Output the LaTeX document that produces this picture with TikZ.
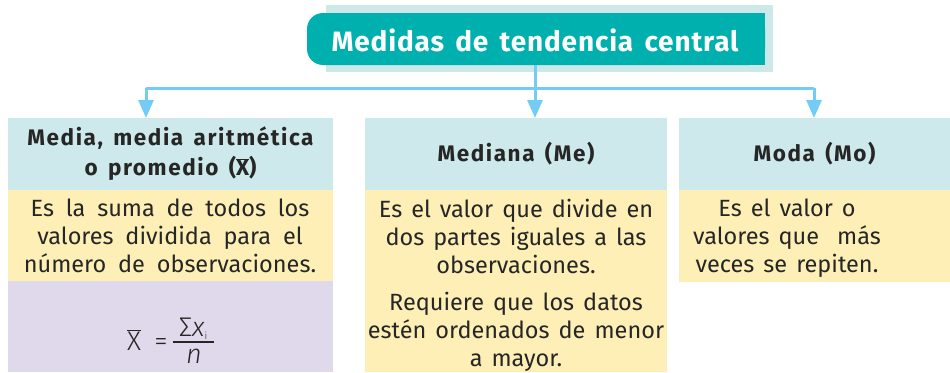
\documentclass[tikz,border=0pt]{standalone}
\usepackage{fontspec}
\setmainfont{Fira Sans}[WordSpace=1.45]
\newfontfamily\widefont{Fira Sans}[WordSpace=1.9]
\newfontfamily\titlefont{Fira Sans}[WordSpace=1.5,LetterSpace=3]
\newfontfamily\hdrfont{Fira Sans}[WordSpace=1.5,LetterSpace=7]
\newfontfamily\formfont{Fira Sans Light}
\usetikzlibrary{arrows.meta}
\definecolor{tealmain}{HTML}{00B0AE}
\definecolor{tealshadow}{HTML}{CDE8E8}
\definecolor{hdrblue}{HTML}{CEE9EB}
\definecolor{yelbox}{HTML}{FDEFB5}
\definecolor{lilbox}{HTML}{E0D9EB}
\definecolor{arrowblue}{HTML}{72CCF3}
\definecolor{txtcol}{HTML}{262626}
\begin{document}
\begin{tikzpicture}[x=1pt,y=-1pt,
  region/.style={inner sep=0pt, outer sep=0pt, anchor=north west, draw=none},
  hdrtext/.style={text=txtcol, font=\hdrfont\bfseries\fontsize{22.5}{30}\selectfont, align=center, inner sep=0pt},
  bodytext/.style={text=txtcol, font=\fontsize{23.5}{28}\selectfont, align=center, inner sep=0pt, anchor=north},
  formtext/.style={text=txtcol, inner sep=0pt, anchor=base, font=\formfont\fontsize{27}{30}\selectfont},
  conn/.style={draw=arrowblue, line width=3pt},
  arr/.style={conn, -{Triangle[width=15pt,length=18pt]}}
]
\useasboundingbox (0,0) rectangle (950,372);
% title
\fill[tealshadow] (326,5) rectangle (773,72);
\fill[tealmain, rounded corners=16pt] (307,13) rectangle (765,65);
\fill[tealmain] (420,13) rectangle (765,65);
\node[text=white, font=\titlefont\bfseries\fontsize{28}{30}\selectfont, inner sep=0pt] (title) at (535,40) {Medidas de tendencia central};
% boxes
\node[region, fill=hdrblue, minimum width=325pt, minimum height=72pt] (h1) at (8,118) {};
\node[region, fill=yelbox, minimum width=325pt, minimum height=91pt] (y1) at (8,190) {};
\node[region, fill=lilbox, minimum width=325pt, minimum height=91pt] (p1) at (8,281) {};
\node[region, fill=hdrblue, minimum width=302pt, minimum height=72pt] (h2) at (365,118) {};
\node[region, fill=yelbox, minimum width=302pt, minimum height=182pt] (y2) at (365,190) {};
\node[region, fill=hdrblue, minimum width=271pt, minimum height=72pt] (h3) at (679,118) {};
\node[region, fill=yelbox, minimum width=271pt, minimum height=92pt] (y3) at (679,190) {};
% header texts
\node[hdrtext] (t1) at (h1.center) {Media, media aritmética\\o promedio (\ensuremath{\overline{\hbox{X}}})};
\node[hdrtext] (t2) at (h2.center) {Mediana (Me)};
\node[hdrtext] (t3) at (h3.center) {Moda (Mo)};
% body texts
\node[bodytext, font={\widefont\fontsize{23.5}{28}\selectfont}] (b1) at (170,199) {Es la suma de todos los\\valores dividida para el\\número de observaciones.};
\node[bodytext] (b2) at (516,199) {Es el valor que divide en\\dos partes iguales a las\\observaciones.};
\node[bodytext] (b2b) at (516,292) {Requiere que los datos\\estén ordenados de menor\\a mayor.};
\node[bodytext] (b3) at (787,199) {Es el valor o\\valores que\ \ más\\veces se repiten.};
% formula
\node[formtext] (fx) at (134,350) {\ensuremath{\overline{\hbox{X}}}};
\node[formtext] (feq) at (161,350) {=};
\node[formtext] (fnum) at (193,336) {Σ\textit{x}\raisebox{-3pt}{\fontsize{10}{10}\selectfont i}};
\node[formtext] (fden) at (194,363) {\textit{n}};
\coordinate (fbl) at (173,342);
\coordinate (fbr) at (214,342);
\draw[txtcol, line width=1.4pt] (fbl) -- (fbr);
% connectors
\coordinate (jm) at (title.center |- 0,88);
\coordinate (jl) at (146,88);
\coordinate (jr) at (814,88);
\draw[conn] (jm |- 0,65) -- (jm);
\draw[conn] (jl) -- (jr);
\draw[arr] (jm) -- (jm |- h2.north);
\draw[arr] (jl) -- (jl |- h1.north);
\draw[arr] (jr) -- (jr |- h3.north);
\end{tikzpicture}
\end{document}
